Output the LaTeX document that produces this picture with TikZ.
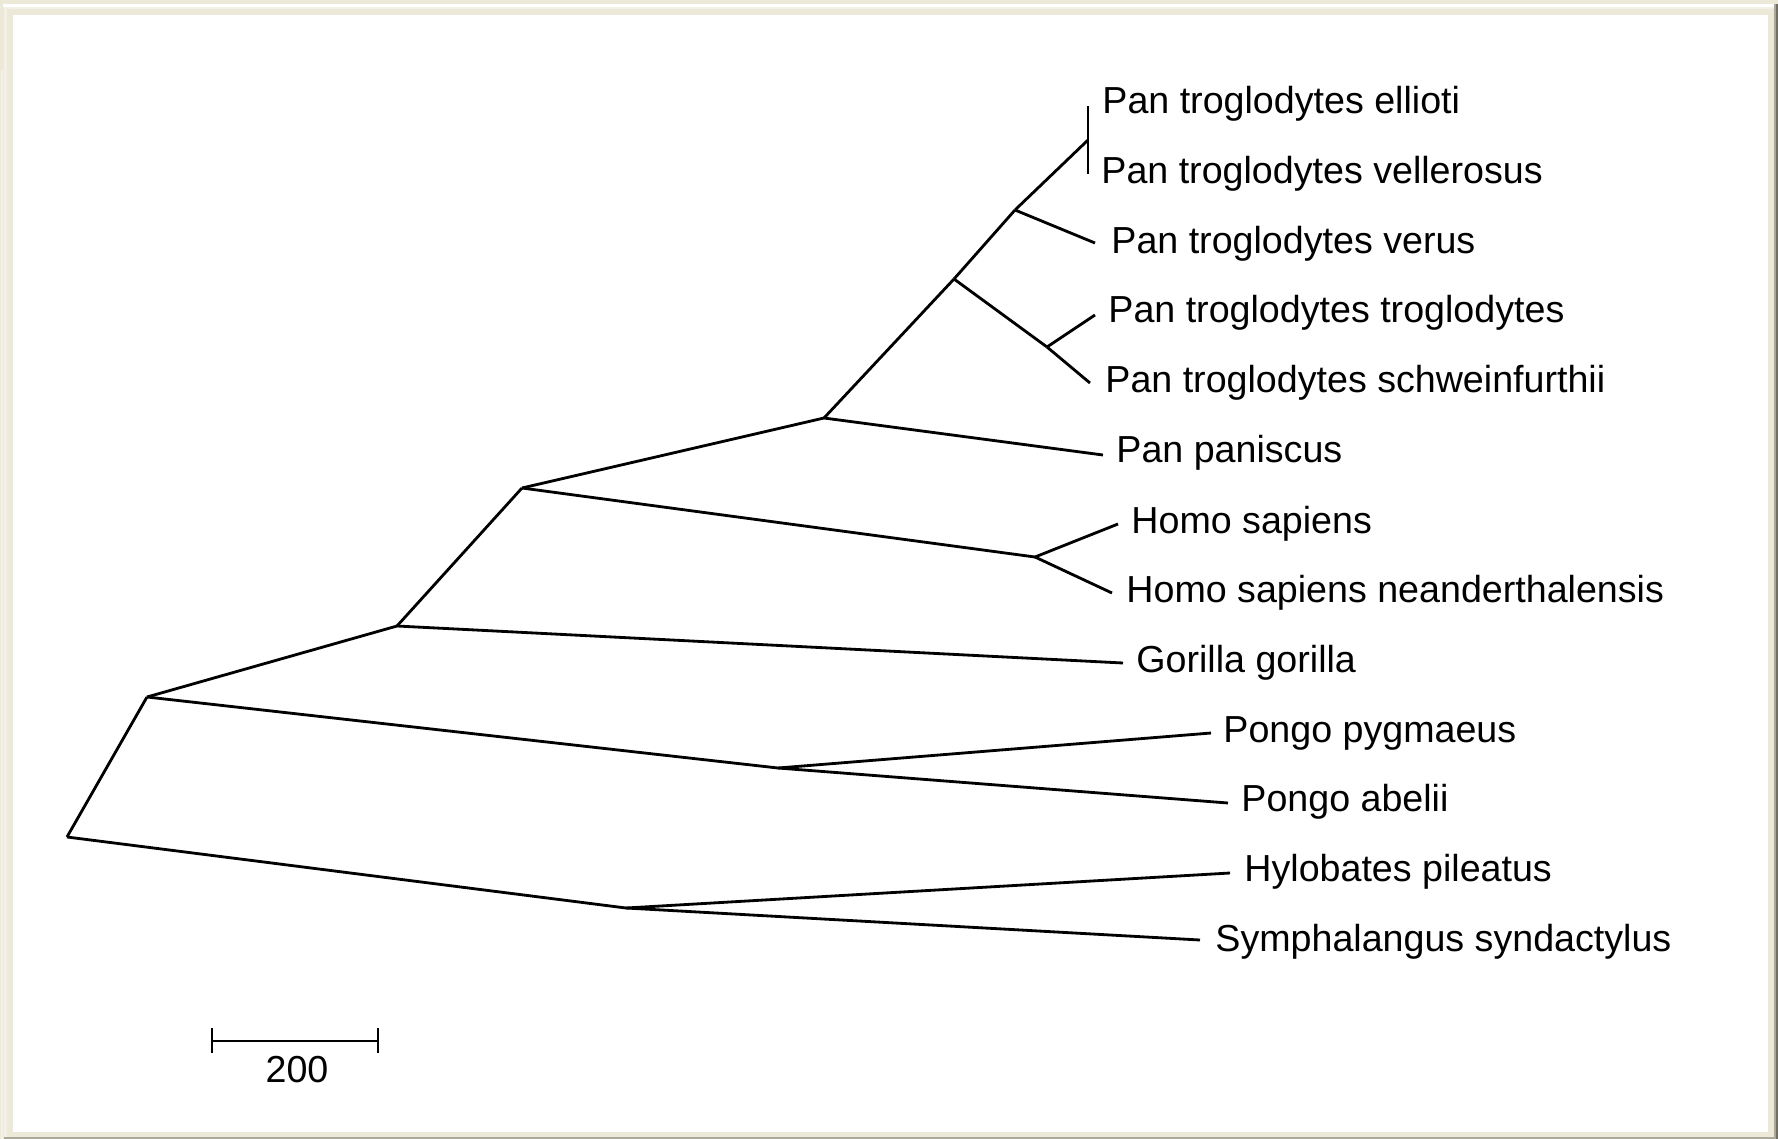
\documentclass[tikz,border=0pt]{standalone}
\usepackage{fontspec}
\setmainfont{Liberation Sans}
\definecolor{xpbeige}{HTML}{ECE9D8}
\definecolor{xplight}{HTML}{F3F1E7}
\definecolor{xpgray}{HTML}{ACA899}
\definecolor{xpdark}{HTML}{716F64}

\begin{document}
\begin{tikzpicture}[x=0.01cm,y=-0.01cm,line width=0.8pt,
    taxon/.style={anchor=base west,inner sep=0pt,font=\fontsize{10.7}{13}\selectfont},
    scalelab/.style={anchor=base,inner sep=0pt,font=\fontsize{10.7}{13}\selectfont}]
  \useasboundingbox (0,0) rectangle (1778,1139);
  % window frame
  \fill[xpbeige] (0,0) rectangle (1778,1139);
  \fill[white] (3,4) rectangle (1775,6.5);
  \fill[xplight] (1,70) rectangle (3,1139);
  \fill[xplight] (4,7) rectangle (1774,9);
  \fill[xplight] (4,7) rectangle (7,1137);
  \fill[xpgray] (1774,4) rectangle (1776,1139);
  \fill[xpdark] (1776,4) rectangle (1778,1139);
  \fill[xpgray] (4,1137) rectangle (1774,1139);
  \fill[white] (13,15) rectangle (1768,1132);

  % inner nodes
  \coordinate (root) at (67,837);
  \coordinate (nA) at (147,697);
  \coordinate (nB) at (397,626);
  \coordinate (nC) at (522,488);
  \coordinate (nD) at (824,418);
  \coordinate (nE) at (954,279);
  \coordinate (nF) at (1015,210);
  \coordinate (nG) at (1088,140);
  \coordinate (nH) at (1047,347);
  \coordinate (nHomo) at (1035,557);
  \coordinate (nPongo) at (778,768);
  \coordinate (nHylo) at (626,908);

  % leaf ends
  \coordinate (ellioti) at (1088,106);
  \coordinate (vellerosus) at (1088,174);
  \coordinate (verus) at (1095,243);
  \coordinate (troglodytes) at (1095,315);
  \coordinate (schwein) at (1090,383);
  \coordinate (paniscus) at (1103,455);
  \coordinate (sapiens) at (1118,524);
  \coordinate (neander) at (1112,593);
  \coordinate (gorilla) at (1123,663);
  \coordinate (pygmaeus) at (1211,733);
  \coordinate (abelii) at (1228,803);
  \coordinate (hylobates) at (1230,873);
  \coordinate (sympha) at (1200,940);

  \node[taxon] (tEll) at (1101,113) {Pan troglodytes ellioti};
  \node[taxon] (tVel) at (1100,183) {Pan troglodytes vellerosus};
  \node[taxon] (tVer) at (1110,253) {Pan troglodytes verus};
  \node[taxon] (tTro) at (1107,322) {Pan troglodytes troglodytes};
  \node[taxon] (tSch) at (1104,392) {Pan troglodytes schweinfurthii};
  \node[taxon] (tPan) at (1115,462) {Pan paniscus};
  \node[taxon] (tSap) at (1130,533) {Homo sapiens};
  \node[taxon] (tNea) at (1125,602) {Homo sapiens neanderthalensis};
  \node[taxon] (tGor) at (1135,672) {Gorilla gorilla};
  \node[taxon] (tPyg) at (1222,742) {Pongo pygmaeus};
  \node[taxon] (tAbe) at (1240,811) {Pongo abelii};
  \node[taxon] (tHyl) at (1243,881) {Hylobates pileatus};
  \node[taxon] (tSym) at (1214,951) {Symphalangus syndactylus};

  \draw (root) -- (nA);
  \draw (root) -- (nHylo);
  \draw (nHylo) -- (hylobates);
  \draw (nHylo) -- (sympha);
  \draw (nA) -- (nB);
  \draw (nA) -- (nPongo);
  \draw (nPongo) -- (pygmaeus);
  \draw (nPongo) -- (abelii);
  \draw (nB) -- (nC);
  \draw (nB) -- (gorilla);
  \draw (nC) -- (nD);
  \draw (nC) -- (nHomo);
  \draw (nHomo) -- (sapiens);
  \draw (nHomo) -- (neander);
  \draw (nD) -- (nE);
  \draw (nD) -- (paniscus);
  \draw (nE) -- (nF);
  \draw (nE) -- (nH);
  \draw (nH) -- (troglodytes);
  \draw (nH) -- (schwein);
  \draw (nF) -- (nG);
  \draw (nF) -- (verus);
  \draw (ellioti) -- (vellerosus);

  % scale bar
  \coordinate (s1) at (212,1041);
  \coordinate (s2) at (378,1041);
  \draw (s1) -- (s2);
  \draw ([yshift=0.13cm]s1) -- ([yshift=-0.12cm]s1);
  \draw ([yshift=0.13cm]s2) -- ([yshift=-0.12cm]s2);
  \node[scalelab] (sLab) at (297,1082) {200};
\end{tikzpicture}
\end{document}
